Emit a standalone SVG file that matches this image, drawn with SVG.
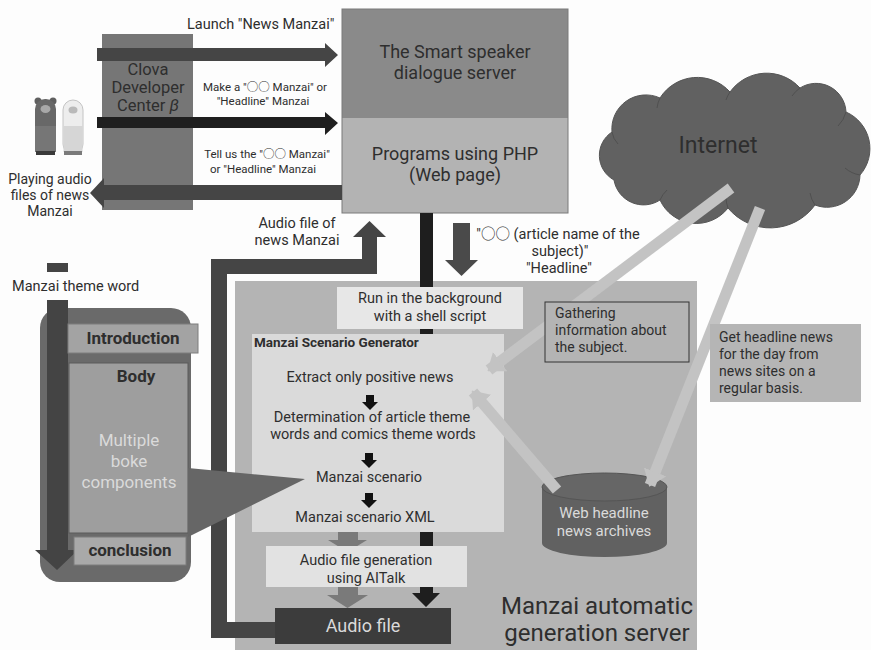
<svg xmlns="http://www.w3.org/2000/svg" width="871" height="650" viewBox="0 0 871 650">
  <defs>
    <style>
      .t { font-family: Roboto, "Noto Sans CJK JP", sans-serif; fill: #2e2e2e; }
      .c { text-anchor: middle; }
      .b { font-weight: bold; }
      .lt { fill: #dadada; }
      .beam { stroke: #c3c3c3; stroke-width: 11; fill: none; }
      .fold { fill: none; stroke: #505050; stroke-width: 1; }
    </style>
    <marker id="beamHead" markerUnits="userSpaceOnUse" markerWidth="16" markerHeight="24" refX="14" refY="12" orient="auto">
      <path d="M0,0 L16,12 L0,24 Z" fill="#c3c3c3"/>
    </marker>
  </defs>

  <rect x="0" y="0" width="871" height="650" fill="#fdfdfd"/>

  <!-- Manzai automatic generation server -->
  <g id="generation-server">
    <rect x="235" y="281" width="462" height="369" fill="#b4b4b4"/>
    <text class="t c" x="597" y="614" font-size="24">Manzai automatic</text>
    <text class="t c" x="597" y="641" font-size="24">generation server</text>
  </g>

  <!-- Clova Developer Center -->
  <g id="clova">
    <rect x="102" y="34" width="91" height="176" fill="#767676"/>
    <text class="t c" x="148" y="75" font-size="16.5">Clova</text>
    <text class="t c" x="148" y="93" font-size="16.5">Developer</text>
    <text class="t c" x="148" y="111" font-size="16.5">Center <tspan font-style="italic">β</tspan></text>
  </g>

  <!-- smart speakers -->
  <g id="speakers">
    <circle cx="38" cy="101" r="3.5" fill="#5f5f5f"/>
    <circle cx="53" cy="101" r="3.5" fill="#5f5f5f"/>
    <rect x="35" y="99" width="21" height="55" rx="10" fill="#686868"/>
    <rect x="35" y="126" width="21" height="26" fill="#767676"/>
    <ellipse cx="45.5" cy="109" rx="5" ry="4" fill="#a8a8a8"/>
    <rect x="36" y="151" width="19" height="4" fill="#3a3a3a"/>
    <rect x="63" y="100" width="20" height="54" rx="10" fill="#ededed" stroke="#c4c4c4"/>
    <rect x="63.5" y="126" width="19" height="26" fill="#d6d6d6"/>
    <ellipse cx="73" cy="110" rx="4.5" ry="3.5" fill="#b9b9b9"/>
    <rect x="64" y="151" width="18" height="4" fill="#7a7a7a"/>
    <text class="t c" x="50" y="184" font-size="14">Playing audio</text>
    <text class="t c" x="50" y="200" font-size="14">files of news</text>
    <text class="t c" x="50" y="216" font-size="14">Manzai</text>
  </g>

  <!-- Smart speaker dialogue server / PHP programs -->
  <g id="dialogue-server">
    <rect x="342" y="9" width="226" height="109" fill="#8a8a8a"/>
    <rect x="342" y="118" width="226" height="95" fill="#b3b3b3"/>
    <rect x="342" y="9" width="226" height="204" fill="none" stroke="#7a7a7a" stroke-width="1"/>
    <text class="t c" x="455" y="58" font-size="18">The Smart speaker</text>
    <text class="t c" x="455" y="79" font-size="18">dialogue server</text>
    <text class="t c" x="455" y="160" font-size="18">Programs using PHP</text>
    <text class="t c" x="455" y="181" font-size="18">(Web page)</text>
  </g>

  <!-- connectors -->
  <g id="connectors">
    <!-- speaker to server requests -->
    <polygon points="97,48 325,48 325,43 338,55 325,67 325,61 97,61" fill="#454545"/>
    <polygon points="97,117 325,117 325,112 338,123 325,135 325,128 97,128" fill="#1f1f1f"/>
    <!-- server reply to speaker -->
    <polygon points="342,185 104,185 104,178 90,193 104,208 104,200 342,200" fill="#454545"/>
    <!-- audio file back to the server -->
    <polygon points="275,622 227,622 227,274 377,274 377,237 386,237 369.5,221 353,237 362,237 362,259 211,259 211,638 275,638" fill="#454545"/>
    <!-- subject request -->
    <polygon points="453,223 470,223 470,260 478,260 461.5,276 445,260 453,260" fill="#4a4a4a"/>
    <!-- background process line -->
    <polygon points="420,213 433,213 433,593 440,593 426,607 412,593 420,593" fill="#1e1e1e"/>
  </g>

  <g id="shell-script">
    <rect x="337" y="287" width="186" height="42" fill="#e7e7e7"/>
    <text class="t c" x="430" y="303" font-size="14.5">Run in the background</text>
    <text class="t c" x="430" y="321" font-size="14.5">with a shell script</text>
  </g>

  <g id="scenario-generator">
    <rect x="252" y="334" width="252" height="198" fill="#dadada"/>
    <text class="t b" x="254" y="347" font-size="13.5">Manzai Scenario Generator</text>
    <text class="t c" x="370" y="382" font-size="14.5">Extract only positive news</text>
    <polygon points="366,395 374,395 374,402 378,402 370,410 362,402 366,402" fill="#111"/>
    <text class="t c" x="372" y="422" font-size="14.5">Determination of article theme</text>
    <text class="t c" x="373" y="439" font-size="14.5">words and comics theme words</text>
    <polygon points="365,453 373,453 373,460 377,460 369,468 361,460 365,460" fill="#111"/>
    <text class="t c" x="369" y="482" font-size="14.5">Manzai scenario</text>
    <polygon points="365,493 373,493 373,500 377,500 369,508 361,500 365,500" fill="#111"/>
    <text class="t c" x="365" y="522" font-size="14.5">Manzai scenario XML</text>
  </g>

  <!-- XML to speech synthesis -->
  <g id="flow-arrows">
    <polygon points="338,532 358,532 358,540 367,540 347.5,552 328,540 338,540" fill="#7a7a7a"/>
    <polygon points="338,587 358,587 358,595 368,595 347.5,608 327,595 338,595" fill="#7a7a7a"/>
  </g>

  <g id="audio-generation">
    <rect x="266" y="546" width="201" height="41" fill="#e2e2e2"/>
    <text class="t c" x="366" y="565" font-size="14.5">Audio  file generation</text>
    <text class="t c" x="366" y="583" font-size="14.5">using AITalk</text>
  </g>

  <g id="audio-file">
    <rect x="275" y="608" width="176" height="36" fill="#3c3c3c"/>
    <text class="t c lt" x="363" y="632" font-size="18">Audio file</text>
  </g>

  <!-- Manzai structure -->
  <g id="manzai-structure">
    <rect x="40" y="308" width="151" height="274" rx="20" fill="#6a6a6a"/>
    <rect x="47" y="263" width="21" height="9" fill="#444"/>
    <text class="t" x="12" y="291" font-size="14.5">Manzai theme word</text>
    <polygon points="47,300 68,300 68,550 78,550 57,570 35,550 47,550" fill="#444"/>
    <rect x="68" y="324" width="130" height="29" fill="#a3a3a3" stroke="#7c7c7c"/>
    <text class="t c b" x="133" y="344" font-size="17">Introduction</text>
    <rect x="69" y="363" width="119" height="170" fill="#9e9e9e" stroke="#5a5a5a"/>
    <text class="t c b" x="136" y="382" font-size="17">Body</text>
    <text class="t c lt" x="129" y="446" font-size="17">Multiple</text>
    <text class="t c lt" x="129" y="467" font-size="17">boke</text>
    <text class="t c lt" x="129" y="488" font-size="17">components</text>
    <rect x="74" y="537" width="112" height="28" fill="#a9a9a9" stroke="#7c7c7c"/>
    <text class="t c b" x="130" y="556" font-size="17">conclusion</text>
  </g>

  <!-- scenario callout -->
  <polygon id="callout" points="188,468 305,479 188,537" fill="#666"/>

  <g id="internet">
    <path d="M614,180 A28,28 0 0,1 612,132 A34,34 0 0,1 660,98 A44,44 0 0,1 730,92 A45,45 0 0,1 800,88 A30,30 0 0,1 846,112 A40,40 0 0,1 860,175 A33,33 0 0,1 815,205 A55,55 0 0,1 728,208 A40,40 0 0,1 660,200 A30,30 0 0,1 614,180 Z" fill="#616161" stroke="#555" stroke-width="1"/>
    <!-- inner folds of the cloud outline -->
    <path class="fold" d="M612,132 A22,22 0 0,0 618,144"/>
    <path class="fold" d="M660,98 A30,30 0 0,0 657,108"/>
    <path class="fold" d="M730,92 A30,30 0 0,0 726,100"/>
    <path class="fold" d="M800,88 A30,30 0 0,0 792,96"/>
    <path class="fold" d="M846,112 A30,30 0 0,1 838,126"/>
    <path class="fold" d="M860,175 A30,30 0 0,1 845,168"/>
    <path class="fold" d="M815,205 A30,30 0 0,1 810,193"/>
    <path class="fold" d="M728,208 A30,30 0 0,1 726,198"/>
    <path class="fold" d="M660,200 A30,30 0 0,1 667,190"/>
    <text class="t c" x="718" y="153" font-size="23">Internet</text>
  </g>

  <g id="news-archive">
    <path d="M542,487 L542,543 A62.5,14 0 0,0 667,543 L667,487 Z" fill="#616161"/>
    <ellipse cx="604.5" cy="487" rx="62.5" ry="14" fill="#666" stroke="#555"/>
    <text class="t c lt" x="604" y="518" font-size="15">Web headline</text>
    <text class="t c lt" x="604" y="536" font-size="15">news archives</text>
  </g>

  <!-- information flows -->
  <g id="info-connectors">
    <line class="beam" x1="731" y1="188" x2="489" y2="370" marker-end="url(#beamHead)"/>
    <line class="beam" x1="557" y1="490" x2="473" y2="392" marker-end="url(#beamHead)"/>
    <line class="beam" x1="760" y1="208" x2="650" y2="485" marker-end="url(#beamHead)"/>
  </g>

  <g id="gathering">
    <rect x="545" y="302" width="144" height="60" fill="#b4b4b4" stroke="#333" stroke-width="1"/>
    <text class="t" x="555" y="318" font-size="14">Gathering</text>
    <text class="t" x="555" y="335" font-size="14">information about</text>
    <text class="t" x="555" y="352" font-size="14">the subject.</text>
  </g>

  <g id="headline-collection">
    <rect x="710" y="324" width="151" height="78" fill="#b5b5b5"/>
    <text class="t" x="719" y="342" font-size="14">Get headline news</text>
    <text class="t" x="719" y="359" font-size="14">for the day from</text>
    <text class="t" x="719" y="376" font-size="14">news sites on a</text>
    <text class="t" x="719" y="393" font-size="14">regular basis.</text>
  </g>

  <!-- connector labels -->
  <g id="labels">
    <text class="t" x="187" y="29" font-size="14.5">Launch "News Manzai"</text>
    <text class="t c" x="265" y="91" font-size="11.5">Make a "○○ Manzai" or</text>
    <text class="t c" x="263" y="105" font-size="11.5">"Headline" Manzai</text>
    <text class="t c" x="267" y="158" font-size="11.5">Tell us the "○○ Manzai"</text>
    <text class="t c" x="263" y="173" font-size="11.5">or "Headline" Manzai</text>
    <text class="t c" x="297" y="228" font-size="14.5">Audio file of</text>
    <text class="t c" x="297" y="245" font-size="14.5">news Manzai</text>
    <text class="t c" x="558" y="239" font-size="14.5">"○○ (article name of the</text>
    <text class="t c" x="560" y="256" font-size="14.5">subject)"</text>
    <text class="t c" x="559" y="273" font-size="14.5">"Headline"</text>
  </g>
</svg>
